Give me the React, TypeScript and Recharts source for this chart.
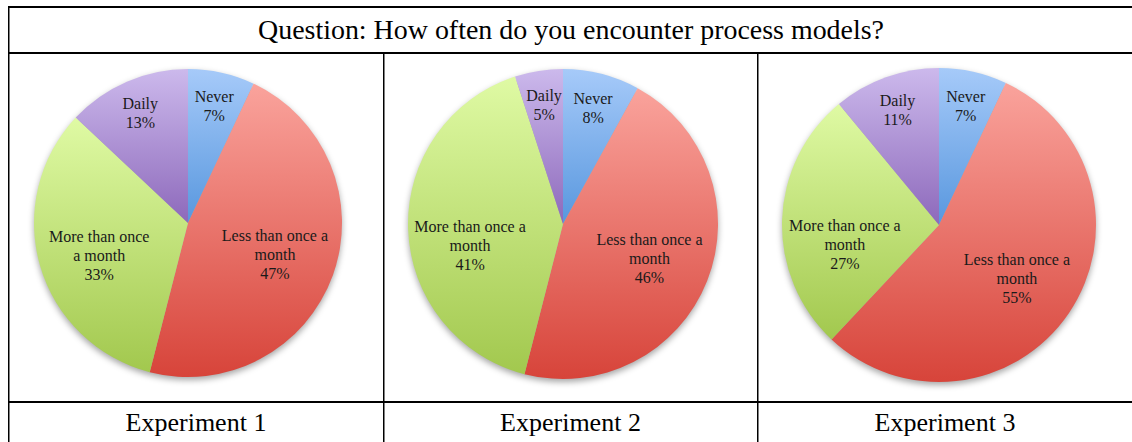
import React from "react";
import { PieChart, Pie, Cell } from "recharts";

const title = "Question: How often do you encounter process models?";
const categories = ["Never", "Less than once a month", "More than once a month", "Daily"];
const exp1Values = [7, 47, 33, 13];
const exp2Values = [8, 46, 41, 5];
const exp3Values = [7, 55, 27, 11];
const exp1Lines = [["Never"], ["Less than once a", "month"], ["More than once", "a month"], ["Daily"]];
const exp2Lines = [["Never"], ["Less than once a", "month"], ["More than once a", "month"], ["Daily"]];
const exp3Lines = [["Never"], ["Less than once a", "month"], ["More than once a", "month"], ["Daily"]];
const experimentLabels = ["Experiment 1", "Experiment 2", "Experiment 3"];

const gradients = [
  { top: "#a6caf9", bottom: "#5897de" },
  { top: "#faa39c", bottom: "#d7443a" },
  { top: "#dffaa4", bottom: "#a2c84e" },
  { top: "#ccb9ec", bottom: "#8d69bb" },
];

const FONT = '"Liberation Serif", "Times New Roman", serif';

type PanelProps = {
  id: string;
  values: number[];
  lines: string[][];
  left: number;
  width: number;
  cx: number;
  cy: number;
  r: number;
  nudge: number[];
};

const RAD = Math.PI / 180;

function Panel({ id, values, lines, left, width, cx, cy, r, nudge }: PanelProps) {
  const data = categories.map((name, i) => ({ name, value: values[i], lines: lines[i] }));
  const shadow = [{ name: "shadow", value: 1 }];
  const renderLabel = (props: any) => {
    const { midAngle, index, value } = props;
    const pcx = props.cx ?? cx;
    const pcy = props.cy ?? cy;
    const frac = value < 15 ? 0.78 : 0.6;
    const x = pcx + r * frac * Math.cos(-midAngle * RAD);
    const y = pcy + r * frac * Math.sin(-midAngle * RAD) + nudge[index];
    const ls = [...data[index].lines, `${value}%`];
    const lh = 19;
    const y0 = y - ((ls.length - 1) * lh) / 2;
    return (
      <text
        key={`lbl-${id}-${index}`}
        x={x}
        y={y0}
        textAnchor="middle"
        dominantBaseline="central"
        fontFamily={FONT}
        fontSize={16}
        fill="#1a1a1a"
      >
        {ls.map((l, k) => (
          <tspan key={k} x={x} y={y0 + k * lh}>
            {l}
          </tspan>
        ))}
      </text>
    );
  };
  return (
    <div style={{ position: "absolute", left, top: 54, width, height: 347 }}>
      <PieChart width={width} height={347} margin={{ top: 0, right: 0, bottom: 0, left: 0 }}>
        <defs>
          {gradients.map((g, i) => (
            <linearGradient key={i} id={`${id}-g${i}`} x1="0" y1="0" x2="0" y2="1">
              <stop offset="0%" stopColor={g.top} />
              <stop offset="100%" stopColor={g.bottom} />
            </linearGradient>
          ))}
          <filter id={`${id}-blur`} x="-20%" y="-20%" width="140%" height="140%">
            <feGaussianBlur stdDeviation="3" />
          </filter>
        </defs>
        <Pie
          data={shadow}
          dataKey="value"
          cx={cx}
          cy={cy + 3}
          outerRadius={r}
          startAngle={90}
          endAngle={-270}
          isAnimationActive={false}
          stroke="none"
          label={false}
          labelLine={false}
        >
          <Cell fill="rgba(0,0,0,0.35)" filter={`url(#${id}-blur)`} />
        </Pie>
        <Pie
          data={data}
          dataKey="value"
          nameKey="name"
          cx={cx}
          cy={cy}
          outerRadius={r}
          startAngle={90}
          endAngle={-270}
          isAnimationActive={false}
          stroke="none"
          labelLine={false}
          label={renderLabel}
        >
          {data.map((d, i) => (
            <Cell key={d.name} fill={`url(#${id}-g${i})`} stroke="none" />
          ))}
        </Pie>
      </PieChart>
    </div>
  );
}

export default function App() {
  return (
    <div
      style={{
        position: "absolute",
        left: 0,
        top: 0,
        width: 1132,
        height: 442,
        background: "#ffffff",
        overflow: "hidden",
      }}
    >
      <Panel id="e1" values={exp1Values} lines={exp1Lines} left={9} width={374} cx={179} cy={169} r={154} nudge={[0, 0, 6, 0]} />
      <Panel id="e2" values={exp2Values} lines={exp2Lines} left={384} width={373} cx={179} cy={170} r={155} nudge={[1, 0, 18, 0]} />
      <Panel id="e3" values={exp3Values} lines={exp3Lines} left={758} width={374} cx={181} cy={171} r={157} nudge={[0, 0, 22, 0]} />
      <svg
        width={1132}
        height={442}
        style={{ position: "absolute", left: 0, top: 0, pointerEvents: "none" }}
      >
        <rect x={8} y={6} width={1130} height={2} fill="#000" />
        <rect x={8} y={52} width={1130} height={2} fill="#000" />
        <rect x={8} y={401} width={1130} height={2} fill="#000" />
        <rect x={8} y={6} width={1.5} height={436} fill="#000" />
        <rect x={383} y={53} width={1.5} height={389} fill="#000" />
        <rect x={757} y={53} width={1.5} height={389} fill="#000" />
        <text
          x={571}
          y={39}
          textAnchor="middle"
          fontFamily={FONT}
          fontSize={28}
          fill="#000"
          textLength={626}
          lengthAdjust="spacingAndGlyphs"
        >
          {title}
        </text>
        {experimentLabels.map((t, i) => (
          <text
            key={t}
            x={[196, 570.5, 945][i]}
            y={431}
            textAnchor="middle"
            fontFamily={FONT}
            fontSize={26}
            fill="#000"
          >
            {t}
          </text>
        ))}
      </svg>
    </div>
  );
}
